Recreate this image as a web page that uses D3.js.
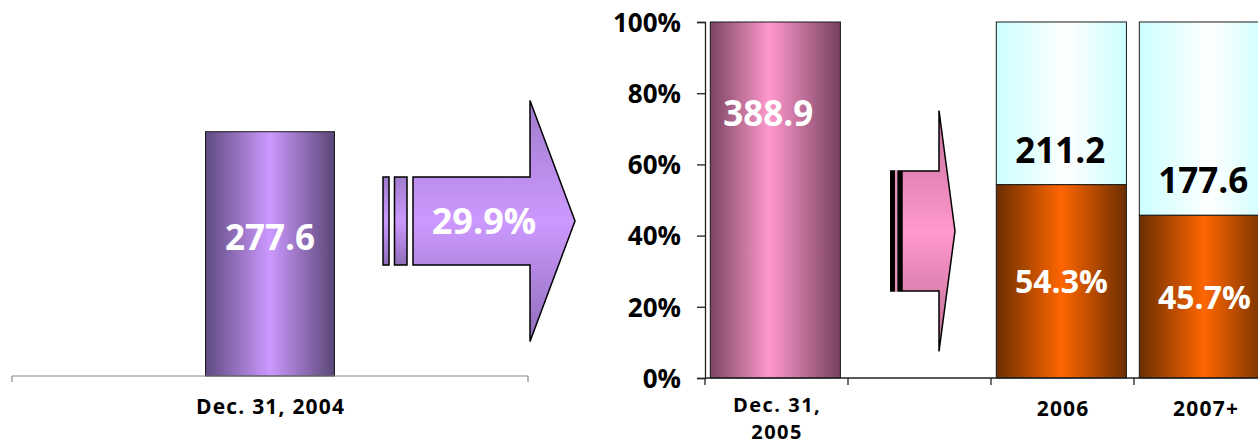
<!DOCTYPE html>
<html>
<head>
<meta charset="utf-8">
<script src="https://cdn.jsdelivr.net/npm/d3@7"></script>
<style>
  html, body { margin: 0; padding: 0; background: #fff; }
  svg { display: block; }
  text { font-family: "Open Sans", "Noto Sans", sans-serif; font-weight: 700; }
</style>
</head>
<body>
<svg id="chart" width="1258" height="445"></svg>
<script>
// ---- data ----
const leftCategories = ["Dec. 31, 2004"];
const leftValues = [277.6];
const growthLabels = ["29.9%"];

const rightCategories = ["Dec. 31, 2005", "", "2006", "2007+"];
const totalValues = [388.9, null, 211.2, 177.6];          // amounts shown on bars
const sharePercent = [100, null, 54.3, 45.7];             // orange / pink share (%)
const yTickValues = [0, 20, 40, 60, 80, 100];

// ---- setup ----
const svg = d3.select("#chart");
const defs = svg.append("defs");

function hGrad(id, edgeL, mid, edgeR, midPos) {
  const g = defs.append("linearGradient").attr("id", id)
    .attr("x1", "0%").attr("x2", "100%").attr("y1", "0%").attr("y2", "0%");
  g.append("stop").attr("offset", "0%").attr("stop-color", edgeL);
  g.append("stop").attr("offset", (midPos || 50) + "%").attr("stop-color", mid);
  g.append("stop").attr("offset", "100%").attr("stop-color", edgeR);
}
function vGrad(id, edge, mid, edge2) {
  const g = defs.append("linearGradient").attr("id", id)
    .attr("x1", "0%").attr("x2", "0%").attr("y1", "0%").attr("y2", "100%");
  g.append("stop").attr("offset", "0%").attr("stop-color", edge);
  g.append("stop").attr("offset", "50%").attr("stop-color", mid);
  g.append("stop").attr("offset", "100%").attr("stop-color", edge2);
}
hGrad("gPurple", "#5f4a80", "#cc99ff", "#5a4676", 50);
hGrad("gPink", "#7a4462", "#ff99cc", "#774160", 45);
hGrad("gOrange", "#6a2e00", "#ff6600", "#6a2e00", 50);
hGrad("gCyan", "#ccffff", "#ffffff", "#ccffff", 55);
vGrad("gArrowPurple", "#a07ccc", "#cc99ff", "#8f6db9");
vGrad("gArrowPink", "#c46f9a", "#ff99cc", "#bb6a93");

const catFont = 21, catSpacing = 1.2;

// ---- left chart ----
const xL = d3.scaleBand().domain(leftCategories).range([12, 528]).paddingInner(0).paddingOuter(1.5);
const yL = d3.scaleLinear().domain([0, 350]).range([376, 68]);

const gL = svg.append("g");
gL.selectAll("rect.bar").data(leftValues).join("rect")
  .attr("class", "bar")
  .attr("x", (d, i) => xL(leftCategories[i]))
  .attr("width", xL.bandwidth())
  .attr("y", d => yL(d))
  .attr("height", d => yL(0) - yL(d))
  .attr("fill", "url(#gPurple)")
  .attr("stroke", "#1a1a1a").attr("stroke-width", 1);

gL.selectAll("text.val").data(leftValues).join("text")
  .attr("class", "val")
  .attr("x", (d, i) => xL(leftCategories[i]) + xL.bandwidth() / 2)
  .attr("y", d => (yL(d) + yL(0)) / 2 - 4)
  .attr("text-anchor", "middle")
  .attr("font-size", 35).attr("fill", "#fff")
  .text(d => d3.format(".1f")(d));

// left axis
const axL = gL.append("g").attr("transform", `translate(0,${yL(0)})`);
axL.append("line").attr("x1", xL.range()[0]).attr("x2", xL.range()[1])
  .attr("stroke", "#888").attr("stroke-width", 1.2);
xL.range().forEach(x => axL.append("line").attr("x1", x).attr("x2", x).attr("y1", 0).attr("y2", 6)
  .attr("stroke", "#888").attr("stroke-width", 1.2));
axL.selectAll("text.cat").data(leftCategories).join("text")
  .attr("class", "cat")
  .attr("x", d => xL(d) + xL.bandwidth() / 2 + catSpacing / 2)
  .attr("y", 38)
  .attr("text-anchor", "middle").attr("font-size", catFont).attr("letter-spacing", catSpacing)
  .attr("fill", "#000")
  .text(d => d);

// ---- arrows (decorations) ----
function arrow(g, o) {
  const path = d3.path();
  path.moveTo(o.bodyX0, o.cy - o.bodyH / 2);
  path.lineTo(o.headX, o.cy - o.bodyH / 2);
  path.lineTo(o.headX, o.cy - o.headH / 2);
  path.lineTo(o.tipX, o.cy);
  path.lineTo(o.headX, o.cy + o.headH / 2);
  path.lineTo(o.headX, o.cy + o.bodyH / 2);
  path.lineTo(o.bodyX0, o.cy + o.bodyH / 2);
  path.closePath();
  g.append("path").attr("d", path.toString()).attr("fill", o.fill)
    .attr("stroke", "#000").attr("stroke-width", 1.5).attr("stroke-linejoin", "miter");
  o.stubs.forEach(s => g.append("rect").attr("x", s[0]).attr("width", s[1])
    .attr("y", o.cy - o.bodyH / 2 - (s[3] ? 0.75 : 0)).attr("height", o.bodyH + (s[3] ? 1.5 : 0))
    .attr("fill", s[2] || o.fill)
    .attr("stroke", s[3] ? "none" : "#000").attr("stroke-width", 1.5));
}
const gA = svg.append("g");
arrow(gA, { bodyX0: 413, headX: 530, tipX: 575, cy: 221, bodyH: 88, headH: 241,
  fill: "url(#gArrowPurple)", stubs: [[383, 6], [394.5, 12.5]] });
gA.append("text").data(growthLabels).attr("x", 484).attr("y", 234)
  .attr("text-anchor", "middle").attr("font-size", 36).attr("fill", "#fff")
  .text(d => d);

arrow(gA, { bodyX0: 902, headX: 939, tipX: 955, cy: 231, bodyH: 120, headH: 241,
  fill: "url(#gArrowPink)", stubs: [[890, 5, "#000", true], [895, 2.3, "#e98cba", true], [897.3, 4.7, "#000", true]] });

// ---- right chart ----
const xR = d3.scaleBand().domain(rightCategories).range([705, 1277]).padding(0);
const yR = d3.scaleLinear().domain([0, 100]).range([378, 22]);
const barOff = xR.step() * 0.037, barW = xR.step() * 0.91;

const rows = rightCategories.map((c, i) => ({ c, total: totalValues[i], share: sharePercent[i], i }))
  .filter(d => d.total !== null);

const gR = svg.append("g");
// remainder (cyan) segments for forecast columns
gR.selectAll("rect.rest").data(rows.filter(d => d.share < 100)).join("rect")
  .attr("class", "rest")
  .attr("x", d => xR(d.c) + barOff).attr("width", barW)
  .attr("y", yR(100)).attr("height", d => yR(d.share) - yR(100))
  .attr("fill", "url(#gCyan)").attr("stroke", "#1a1a1a").attr("stroke-width", 1);
// share segments
gR.selectAll("rect.share").data(rows).join("rect")
  .attr("class", "share")
  .attr("x", d => xR(d.c) + barOff).attr("width", barW)
  .attr("y", d => yR(d.share)).attr("height", d => yR(0) - yR(d.share))
  .attr("fill", d => d.share === 100 ? "url(#gPink)" : "url(#gOrange)")
  .attr("stroke", "#1a1a1a").attr("stroke-width", 1);

// labels
gR.selectAll("text.total").data(rows).join("text")
  .attr("class", "total")
  .attr("x", d => xR(d.c) + barOff + barW / 2 - (d.share === 100 ? 7 : 1))
  .attr("y", d => d.share === 100 ? yR(100) + 104 : yR(d.share) - 22)
  .attr("text-anchor", "middle").attr("font-size", 35)
  .attr("fill", d => d.share === 100 ? "#fff" : "#000")
  .text(d => d3.format(".1f")(d.total));
gR.selectAll("text.pct").data(rows.filter(d => d.share < 100)).join("text")
  .attr("class", "pct")
  .attr("x", d => xR(d.c) + barOff + barW / 2)
  .attr("y", d => (yR(d.share) + yR(0)) / 2 + 12)
  .attr("text-anchor", "middle").attr("font-size", 32).attr("fill", "#fff")
  .text(d => d3.format(".1f")(d.share) + "%");

// y axis
const yAxis = d3.axisLeft(yR).tickValues(yTickValues).tickSize(8).tickPadding(16)
  .tickFormat(d => d + "%");
const gy = gR.append("g").attr("transform", `translate(${xR.range()[0]},0)`).call(yAxis);
gy.select(".domain").attr("stroke", "#222").attr("stroke-width", 1.3);
gy.selectAll(".tick line").attr("stroke", "#222").attr("stroke-width", 1.3);
gy.selectAll(".tick text").attr("font-size", 26).attr("fill", "#000")
  .attr("font-family", "'Open Sans', sans-serif").attr("font-weight", 700)
  .attr("dy", "0.36em");

// x axis
const gx = gR.append("g").attr("transform", `translate(0,${yR(0)})`);
gx.append("line").attr("x1", xR.range()[0]).attr("x2", xR.range()[1])
  .attr("stroke", "#222").attr("stroke-width", 1.3);
rightCategories.forEach(c => gx.append("line").attr("x1", xR(c)).attr("x2", xR(c))
  .attr("y1", 0).attr("y2", 7).attr("stroke", "#222").attr("stroke-width", 1.3));
gx.selectAll("text.cat").data(rightCategories.filter(c => c !== "")).join("text")
  .attr("class", "cat")
  .attr("text-anchor", "middle").attr("fill", "#000")
  .each(function (c) {
    const t = d3.select(this);
    const cx = xR(c) + xR.step() / 2 + catSpacing / 2;
    const twoLine = c.startsWith("Dec.");
    const parts = twoLine ? [c.slice(0, c.lastIndexOf(" ")), c.slice(c.lastIndexOf(" ") + 1)] : [c];
    t.attr("font-size", twoLine ? 20 : catFont).attr("letter-spacing", twoLine ? 1.5 : catSpacing);
    const y0 = twoLine ? 33.5 : 38, lh = 27.5;
    parts.forEach((p, k) => t.append("tspan").attr("x", cx).attr("y", y0 + k * lh).text(p));
  });
</script>
</body>
</html>
